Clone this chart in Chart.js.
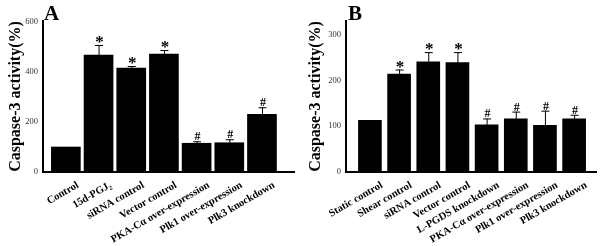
<!DOCTYPE html>
<html>
<head>
<meta charset="utf-8">
<script src="https://cdn.jsdelivr.net/npm/chart.js@4"></script>
<style>
  body { margin: 0; background: #fff; }
  #wrap { position: relative; width: 602px; height: 246px; }
  #chartA { position: absolute; left: 0; top: 0; }
  #chartB { position: absolute; left: 300px; top: 0; }
</style>
</head>
<body>
<div id="wrap">
  <canvas id="chartA" width="300" height="246"></canvas>
  <canvas id="chartB" width="302" height="246"></canvas>
</div>
<script>
// Panel A
const catsA = ['Control', '15d-PGJ₂', 'siRNA control', 'Vector control', 'PKA-Cα over-expression', 'Plk1 over-expression', 'Plk3 knockdown'];
const valsA = [100, 468, 416, 472, 115, 117, 231];
const sdA = [0, 40, 8, 16, 8, 14, 28];
const markA = ['', '*', '*', '*', '#', '#', '#'];
const ticksA = [0, 200, 400, 600];

// Panel B
const catsB = ['Static control', 'Shear control', 'siRNA control', 'Vector control', 'L-PGDS knockdown', 'PKA-Cα over-expression', 'Plk1 over-expression', 'Plk3 knockdown'];
const valsB = [113, 214, 241, 239, 103, 116, 102, 116];
const sdB = [0, 10, 21, 23, 14, 16, 32, 9];
const markB = ['', '*', '*', '*', '#', '#', '#', '#'];
const ticksB = [0, 100, 200, 300];

const serif = '"Liberation Serif", "Times New Roman", serif';

// error bars, significance marks and panel letter
const extras = {
    id: 'extras',
    afterDatasetsDraw(chart, args, opts) {
        const ctx = chart.ctx;
        const x = chart.scales.x, y = chart.scales.y;
        ctx.save();
        ctx.strokeStyle = '#000';
        ctx.fillStyle = '#000';
        ctx.lineWidth = 1;
        opts.vals.forEach((v, i) => {
            const px = x.getPixelForValue(i);
            const top = y.getPixelForValue(v);
            const end = y.getPixelForValue(v + opts.sd[i]);
            if (opts.sd[i] > 0) {
                ctx.beginPath();
                ctx.moveTo(px + 0.5, top);
                ctx.lineTo(px + 0.5, end);
                ctx.moveTo(px - 3.5, end + 0.5);
                ctx.lineTo(px + 4.5, end + 0.5);
                ctx.stroke();
            }
            const m = opts.marks[i];
            if (m === '*') {
                ctx.font = 'bold 17px ' + serif;
                ctx.textAlign = 'center';
                ctx.textBaseline = 'alphabetic';
                ctx.fillText(m, px + 1, end + 2);
            } else if (m === '#') {
                ctx.font = 'bold 12px ' + serif;
                ctx.textAlign = 'center';
                ctx.textBaseline = 'alphabetic';
                ctx.fillText(m, px + 1, end - 1);
            }
        });
        ctx.font = 'bold 21px ' + serif;
        ctx.textAlign = 'left';
        ctx.textBaseline = 'alphabetic';
        ctx.fillText(opts.letter, opts.letterX, 20);
        ctx.restore();
    }
};

function makeChart(id, cats, vals, sd, marks, ticks, g) {
    return new Chart(document.getElementById(id), {
        type: 'bar',
        data: {
            datasets: [{
                data: vals.map((v, i) => ({ x: i, y: v })),
                backgroundColor: '#000',
                borderWidth: 0,
                barThickness: g.barW
            }]
        },
        options: {
            responsive: false,
            animation: false,
            events: [],
            layout: { padding: { left: 0, right: g.padRight, top: 21, bottom: 0 } },
            plugins: {
                legend: { display: false },
                tooltip: { enabled: false },
                extras: { vals: vals, sd: sd, marks: marks, letter: g.letter, letterX: g.letterX }
            },
            scales: {
                x: {
                    type: 'linear',
                    offset: false,
                    min: g.xMin,
                    max: g.xMax,
                    grid: { display: false, drawTicks: false },
                    border: { display: true, color: '#000', width: 2 },
                    // category labels sit a little right of each bar centre
                    afterBuildTicks: s => { s.ticks = cats.map((c, i) => ({ value: i + g.shift })); },
                    afterFit: s => { s.height = 74; s.paddingLeft = 0; s.paddingRight = 0; },
                    ticks: {
                        autoSkip: false,
                        minRotation: 30,
                        maxRotation: 30,
                        padding: 7,
                        color: '#000',
                        font: { family: serif, size: 10.5, weight: 'bold' },
                        callback: (v, i) => cats[i]
                    }
                },
                y: {
                    min: 0,
                    max: g.yMax,
                    grid: { display: false, drawTicks: false },
                    border: { display: true, color: '#000', width: 2 },
                    afterBuildTicks: s => { s.ticks = ticks.map(t => ({ value: t })); },
                    afterFit: s => { s.width = g.axisX; },
                    ticks: {
                        padding: 5,
                        color: '#333',
                        font: { family: serif, size: 8.5 }
                    },
                    title: {
                        display: true,
                        text: 'Caspase-3 activity(%)',
                        color: '#000',
                        padding: { top: 6, bottom: 0 },
                        font: { family: serif, size: 16, weight: 'bold' }
                    }
                }
            }
        },
        plugins: [extras]
    });
}

makeChart('chartA', catsA, valsA, sdA, markA, ticksA, {
    barW: 29, padRight: 6, xMin: -0.70, xMax: 6.98, shift: 0.37, yMax: 604, axisX: 43, letter: 'A', letterX: 44
});
makeChart('chartB', catsB, valsB, sdB, markB, ticksB, {
    barW: 23, padRight: 6, xMin: -0.82, xMax: 7.75, shift: 0.41, yMax: 330, axisX: 46, letter: 'B', letterX: 48
});
</script>
</body>
</html>
